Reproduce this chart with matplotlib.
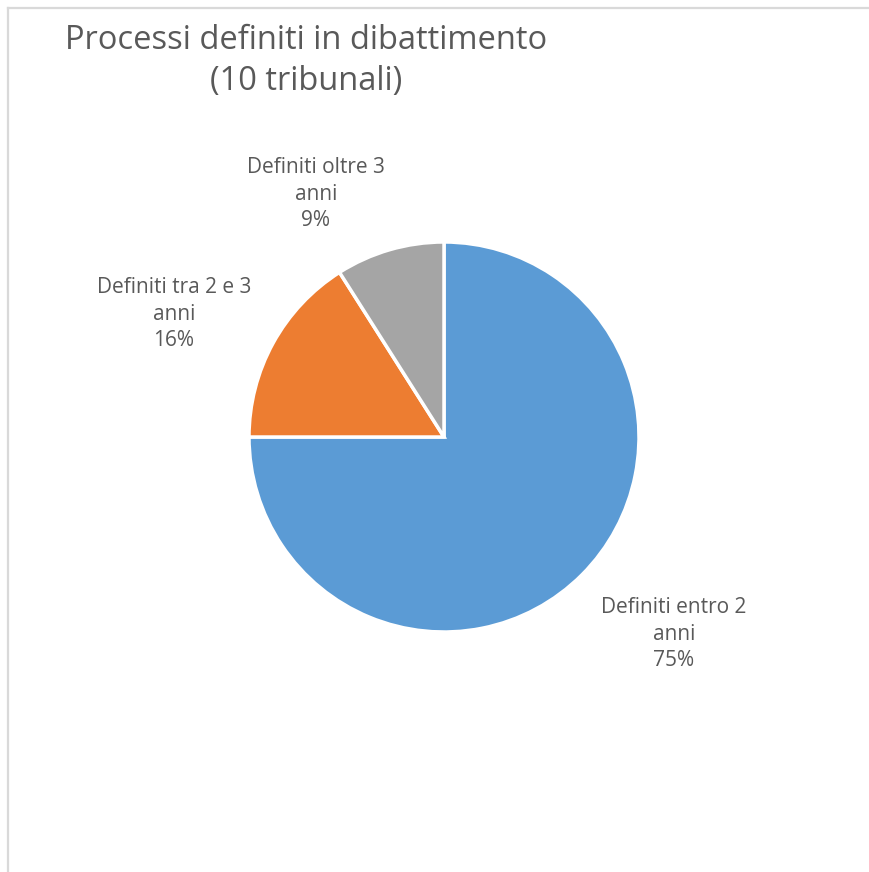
import numpy as np
import matplotlib.pyplot as plt
from matplotlib.lines import Line2D

plt.rcParams['font.family'] = ['Open Sans', 'DejaVu Sans']

categories = ["Definiti entro 2\nanni", "Definiti tra 2 e 3\nanni", "Definiti oltre 3\nanni"]
shares = [75, 16, 9]
colors = ["#5B9BD5", "#ED7D31", "#A5A5A5"]
title = "Processi definiti in dibattimento\n(10 tribunali)"

W, H = 870, 872
cx, cy, r = 444, 437, 195  # pie centre / radius in pixels

fig = plt.figure(figsize=(W / 100, H / 100), dpi=100)
ax = fig.add_axes([0, 0, 1, 1])

wedges, _ = ax.pie(shares, colors=colors, startangle=90, counterclock=False,
                   radius=1, wedgeprops=dict(edgecolor="white", linewidth=2.5))
ax.set_xlim(-cx / r, (W - cx) / r)
ax.set_ylim((cy - H) / r, cy / r)
ax.set_aspect("equal")
ax.axis("off")

# label positions in pixels (text block centres)
label_px = [(674, 634), (174, 314), (316, 194)]
for cat, val, (px, py) in zip(categories, shares, label_px):
    ax.text((px - cx) / r, (cy - py) / r, f"{cat}\n{val}%", ha="center", va="center",
            fontsize=15, color="#595959", linespacing=1.35, multialignment="center")

fig.text(306 / W, 1 - 61 / H, title, ha="center", va="center", fontsize=23.5,
         color="#595959", linespacing=1.3, multialignment="center")

# chart frame (left and top edges visible)
fig.add_artist(Line2D([8.5 / W, 8.5 / W], [0, 1 - 8.5 / H], color="#D9D9D9", lw=1.6))
fig.add_artist(Line2D([8.5 / W, 1], [1 - 8.5 / H, 1 - 8.5 / H], color="#D9D9D9", lw=1.6))

fig.savefig("out.png", dpi=100, facecolor="white")
